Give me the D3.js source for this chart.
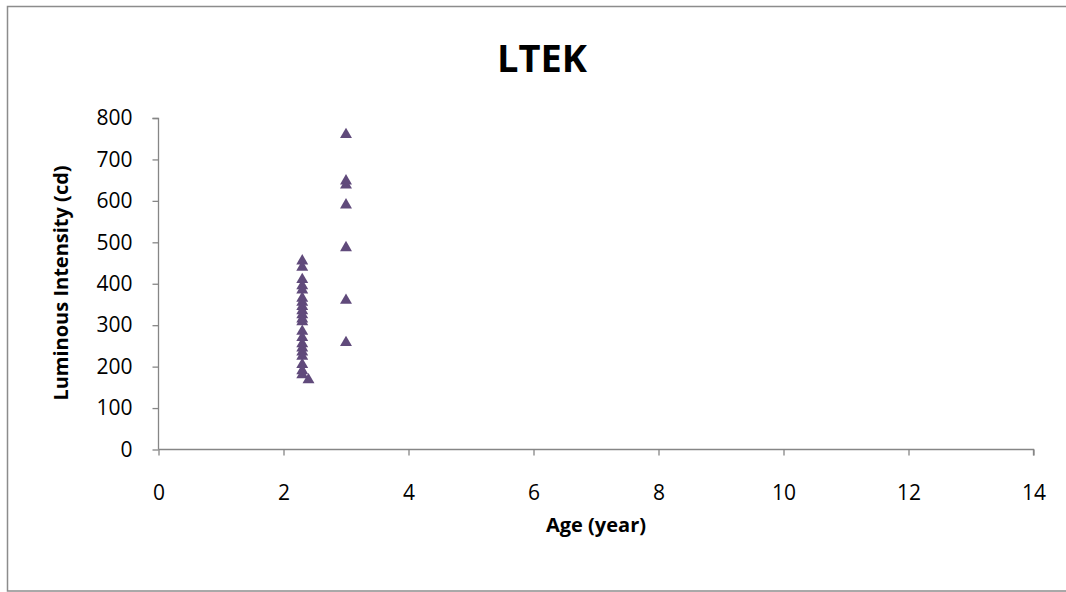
<!DOCTYPE html>
<html><head><meta charset="utf-8">
<script src="https://cdn.jsdelivr.net/npm/d3@7"></script>
<style>body{margin:0;background:#fff;overflow:hidden}svg{display:block}text{font-family:"Open Sans","Noto Sans",sans-serif}</style>
</head><body><svg id="c" width="1066" height="592"></svg>
<script>
const ageX = [2.3,2.3,2.3,2.3,2.3,2.3,2.3,2.3,2.3,2.3,2.3,2.3,2.3,2.3,2.3,2.3,2.3,2.3,2.3,2.3,2.3,2.4,
              3,3,3,3,3,3,3];
const intensityY = [455,440,410,395,385,365,355,345,335,325,315,308,285,270,255,245,235,225,205,190,180,168,
                    760,648,638,590,487,360,258];
const xTicks = [0,2,4,6,8,10,12,14];
const yTicks = [0,100,200,300,400,500,600,700,800];
const title = "LTEK", xTitle = "Age (year)", yTitle = "Luminous Intensity (cd)";

const svg = d3.select("#c");
svg.append("rect").attr("x",7.5).attr("y",6.5).attr("width",1070).attr("height",584.5)
  .attr("fill","#fff").attr("stroke","#8c8c8c").attr("stroke-width",1.5);

const x = d3.scaleLinear().domain([0,14]).range([158.5,1033.5]);
const y = d3.scaleLinear().domain([0,800]).range([449.5,118]);
const axisColor = "#868686";

const gx = svg.append("g").attr("transform","translate(0,449.5)")
  .call(d3.axisBottom(x).tickValues(xTicks).tickSize(6).tickPadding(30).tickFormat(d3.format("d")));
const gy = svg.append("g").attr("transform","translate(158.5,0)")
  .call(d3.axisLeft(y).tickValues(yTicks).tickSize(6).tickPadding(20).tickFormat(d3.format("d")));
[gx,gy].forEach(g=>{
  g.select(".domain").attr("stroke",axisColor).attr("stroke-width",1.3);
  g.selectAll(".tick line").attr("stroke",axisColor).attr("stroke-width",1.3);
  g.selectAll(".tick text").attr("fill","#000").style("font-size","21px");
});
gy.select(".domain").attr("d","M-6,118.5H0V449.5");
gx.select(".domain").attr("d","M158.5,0V0H1033.5V6");

const tri = d3.symbol().type(d3.symbolTriangle).size(62);
svg.append("g").selectAll("path").data(ageX).join("path")
  .attr("d",tri)
  .attr("transform",(d,i)=>`translate(${x(d)},${y(intensityY[i])})`)
  .attr("fill","#604A7B");

svg.append("text").attr("x",542).attr("y",72).attr("text-anchor","middle")
  .style("font-size","38px").style("font-weight","bold").text(title);
svg.append("text").attr("x",596).attr("y",532).attr("text-anchor","middle")
  .style("font-size","20px").style("font-weight","bold").text(xTitle);
svg.append("text").attr("transform","translate(68,283) rotate(-90)").attr("text-anchor","middle")
  .style("font-size","20px").style("font-weight","bold").text(yTitle);
</script></body></html>
